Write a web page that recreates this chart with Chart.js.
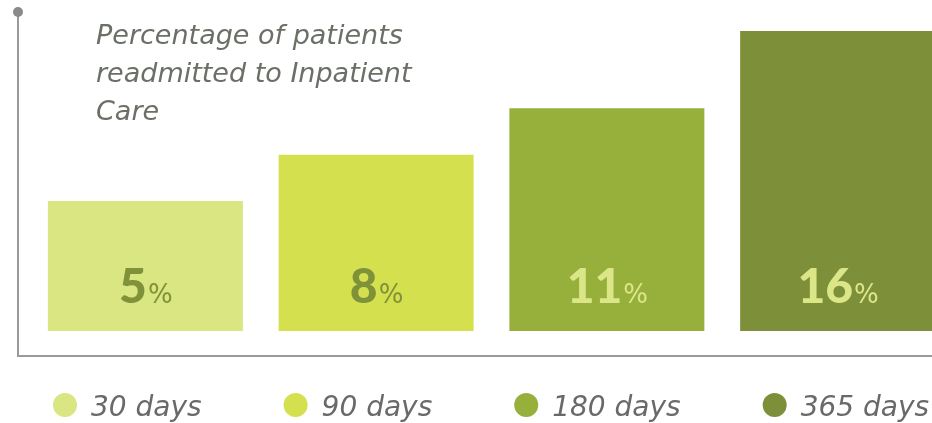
<!DOCTYPE html>
<html>
<head>
<meta charset="utf-8">
<script src="https://cdn.jsdelivr.net/npm/chart.js@4.4.1/dist/chart.umd.min.js"></script>
<style>
    html, body { margin: 0; padding: 0; background: #fff; overflow: hidden; }
    #wrap { width: 932px; height: 423px; overflow: hidden; }
    #box { width: 955px; height: 423px; }
</style>
</head>
<body>
<div id="wrap"><div id="box"><canvas id="readmitChart"></canvas></div></div>
<script>
// Chart data
const categories = ['30 days', '90 days', '180 days', '365 days'];
const readmitted = [5, 8, 11, 16];
const titleLines = ['Percentage of patients', 'readmitted to Inpatient', 'Care'];

const barColors = ['#d9e681', '#d4e04e', '#97af3b', '#7e8f39'];
const labelColors = ['#7f9139', '#7f9139', '#dbe688', '#dbe688'];
const greyText = '#6b7066';
const legendText = '#696969';
const fontFamily = "'DejaVu Sans', sans-serif";
const numberFamily = "'Lato', sans-serif";

// axis lines, title, value labels and legend drawn on top of the bars
const decorations = {
    id: 'decorations',
    afterDatasetsDraw(chart) {
        const { ctx, chartArea } = chart;
        const axisX = chartArea.left - 12;
        const axisY = chartArea.bottom + 25;

        ctx.save();
        ctx.strokeStyle = '#9a9a9a';
        ctx.lineWidth = 2;
        ctx.beginPath();
        ctx.moveTo(axisX, 12);
        ctx.lineTo(axisX, axisY);
        ctx.lineTo(chart.width, axisY);
        ctx.stroke();
        ctx.fillStyle = '#8a8a8a';
        ctx.beginPath();
        ctx.arc(axisX, 12, 5, 0, Math.PI * 2);
        ctx.fill();

        // title block
        ctx.fillStyle = greyText;
        ctx.font = `oblique 27px ${fontFamily}`;
        ctx.textAlign = 'left';
        ctx.textBaseline = 'alphabetic';
        titleLines.forEach((line, i) => {
            ctx.fillText(line, 96, 44 + i * 38);
        });

        // value labels inside the bars
        const bigFont = `900 48px ${numberFamily}`;
        const pctFont = `26px ${fontFamily}`;
        const meta = chart.getDatasetMeta(0);
        meta.data.forEach((bar, i) => {
            const big = String(readmitted[i]);
            ctx.font = bigFont;
            const w1 = ctx.measureText(big).width;
            ctx.font = pctFont;
            const w2 = ctx.measureText('%').width;
            const x = bar.x - (w1 + w2) / 2;
            const y = bar.base - 28;
            ctx.fillStyle = labelColors[i];
            ctx.font = bigFont;
            ctx.fillText(big, x, y);
            ctx.font = pctFont;
            ctx.fillText('%', x + w1 + 1, y);
        });

        // legend
        let cursor = 53;
        ctx.font = `oblique 28px ${fontFamily}`;
        categories.forEach((label, i) => {
            ctx.fillStyle = barColors[i];
            ctx.beginPath();
            ctx.arc(cursor + 12, 405, 12, 0, Math.PI * 2);
            ctx.fill();
            ctx.fillStyle = legendText;
            ctx.fillText(label, cursor + 38, 416);
            cursor += 38 + ctx.measureText(label).width + 82;
        });
        ctx.restore();
    }
};

new Chart(document.getElementById('readmitChart'), {
    type: 'bar',
    data: {
        labels: categories,
        datasets: [{
            data: readmitted,
            backgroundColor: barColors,
            borderWidth: 0,
            barPercentage: 0.845,
            categoryPercentage: 1,
            base: -3.4
        }]
    },
    options: {
        responsive: true,
        maintainAspectRatio: false,
        animation: false,
        layout: {
            padding: { left: 30, right: 2, top: 31, bottom: 92 }
        },
        plugins: {
            legend: { display: false },
            tooltip: { enabled: false }
        },
        scales: {
            x: { display: false, offset: true },
            y: { display: false, min: -3.4, max: 16 }
        }
    },
    plugins: [decorations]
});
</script>
</body>
</html>
